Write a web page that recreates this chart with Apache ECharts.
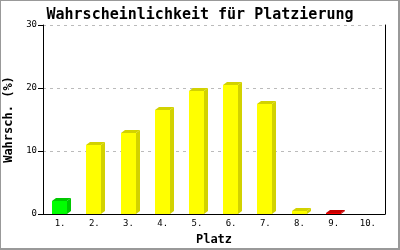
<!DOCTYPE html>
<html><head><meta charset="utf-8">
<script src="https://cdn.jsdelivr.net/npm/echarts@6/dist/echarts.min.js"></script>
<style>html,body{margin:0;padding:0;background:#fff}#c{width:400px;height:250px}</style>
</head><body><div id="c"></div>
<script>
const categories = ['1.','2.','3.','4.','5.','6.','7.','8.','9.','10.'];
const values = [2.1, 11.0, 12.9, 16.5, 19.5, 20.5, 17.5, 0.4, 0.2, 0];
const barColors = ['#00ff00','#ffff00','#ffff00','#ffff00','#ffff00','#ffff00','#ffff00','#ffff00','#ff0000','#ffff00'];
const sideColors = ['#00c800','#d2d200','#d2d200','#d2d200','#d2d200','#d2d200','#d2d200','#d2d200','#c80000','#d2d200'];
const yTicks = [0, 10, 20, 30];

const chart = echarts.init(document.getElementById('c'), null, {renderer:'canvas'});
const mono = 'DejaVu Sans Mono';
chart.setOption({
  animation: false,
  backgroundColor: '#fff',
  title: {
    text: 'Wahrscheinlichkeit für Platzierung',
    left: 'center', top: 3,
    textStyle: {fontFamily: mono, fontSize: 15, fontWeight: 'bold', color: '#000'}
  },
  graphic: [{
    type: 'rect', shape: {x: 0, y: 0, width: 399, height: 249},
    style: {fill: 'none', stroke: '#999', lineWidth: 2}, silent: true
  }],
  grid: {left: 43, right: 15, top: 25, bottom: 36, outerBoundsMode: 'none', containLabel: false},
  xAxis: {
    type: 'category', data: categories,
    name: 'Platz', nameLocation: 'middle', nameGap: 20,
    nameTextStyle: {fontFamily: mono, fontSize: 12, fontWeight: 'bold', color: '#000'},
    axisLine: {lineStyle: {color: '#000', width: 1}},
    axisTick: {show: false},
    axisLabel: {fontFamily: mono, fontSize: 9, color: '#000', margin: 5}
  },
  yAxis: [{
    type: 'value', min: 0, max: 30, interval: 10,
    name: 'Wahrsch. (%)', nameLocation: 'middle', nameGap: 21,
    nameTextStyle: {fontFamily: mono, fontSize: 12, fontWeight: 'bold', color: '#000'},
    axisLine: {show: true, lineStyle: {color: '#000', width: 1}},
    axisTick: {show: true, length: 5, lineStyle: {color: '#000'}},
    axisLabel: {fontFamily: mono, fontSize: 9, color: '#000', margin: 6,
      formatter: v => yTicks.includes(v) ? String(v) : ''},
    splitLine: {show: true, lineStyle: {color: '#bbb', type: [3, 4], width: 1}}
  }, {
    type: 'value', min: 0, max: 30, interval: 10, position: 'right',
    axisLine: {show: true, lineStyle: {color: '#000', width: 1}},
    axisTick: {show: false}, axisLabel: {show: false}, splitLine: {show: false}
  }],
  series: [{
    type: 'custom',
    data: values.map((v, i) => [i, v]),
    renderItem: function (params, api) {
      const i = api.value(0), v = api.value(1);
      if (v <= 0) return null;
      const top = api.coord([i, v]);
      const base = api.coord([i, 0]);
      const w = 15, dx = 4, dy = 3;
      const x = Math.round(top[0] - 8);
      const yt = Math.round(top[1]);
      const yb = Math.round(base[1]);
      const front = barColors[i], side = sideColors[i];
      return {
        type: 'group',
        children: [
          {type: 'polygon', shape: {points: [[x + w, yt], [x + w + dx, yt - dy], [x + w + dx, yb - dy], [x + w, yb]]}, style: {fill: side}},
          {type: 'polygon', shape: {points: [[x, yt], [x + dx, yt - dy], [x + w + dx, yt - dy], [x + w, yt]]}, style: {fill: side}},
          {type: 'rect', shape: {x: x, y: yt, width: w, height: yb - yt}, style: {fill: front}}
        ]
      };
    }
  }]
});
</script></body></html>
